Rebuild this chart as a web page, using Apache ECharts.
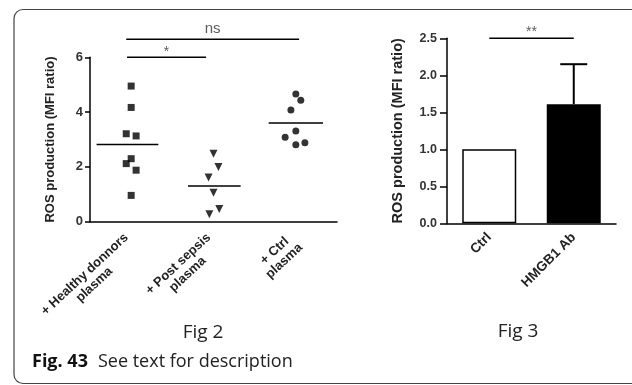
<!DOCTYPE html>
<html>
<head>
<meta charset="utf-8">
<script src="https://cdn.jsdelivr.net/npm/echarts@6/dist/echarts.min.js"></script>
<style>
  html, body { margin: 0; padding: 0; background: #fff; }
</style>
</head>
<body>
<div id="chart" style="width:632px;height:385px"></div>
<script>
// Fig 2 - scatter of ROS production per plasma group
const fig2Groups = ['+ Healthy donnors\nplasma', '+ Post sepsis\nplasma', '+ Ctrl\nplasma']
const healthyVals = [4.95, 4.17, 3.21, 3.13, 2.30, 2.12, 1.88, 0.96]
const healthyJit = [0, 0, -0.06, 0.06, 0, -0.06, 0.06, 0]
const sepsisVals = [2.48, 2.00, 1.61, 1.06, 0.46, 0.27]
const sepsisJit = [0, 0.06, -0.06, 0, 0.07, -0.05]
const ctrlVals = [4.66, 4.43, 4.08, 3.31, 3.08, 2.81, 2.88]
const ctrlJit = [0, 0.06, -0.06, 0, -0.13, 0, 0.11]
const groupMeans = [2.82, 1.30, 3.60]
const meanFrom = [-0.42, -0.31, -0.33]
const meanTo = [0.33, 0.33, 0.33]
const fig2Ticks = [0, 2, 4, 6]
// significance brackets on fig 2
const sigText = ['*', 'ns']
const sigFrom = [0.95, 0.94]
const sigTo = [1.91, 3.04]
const sigY = [6.0, 6.66]

// Fig 3 - bar chart
const fig3Cats = ['Ctrl', 'HMGB1 Ab']
const fig3Vals = [1.0, 1.61]
const fig3Upper = [1.0, 2.15]
const fig3Sig = '**'
const fig3SigY = 2.5

const chart = echarts.init(document.getElementById('chart'))

const txt = '#222'
const font = "'Liberation Sans', Arial, sans-serif"

function pts (vals, jit, g) {
  return vals.map((v, i) => [g + jit[i], v])
}

const meanSeries = groupMeans.map((m, i) => ({
  type: 'line',
  xAxisIndex: 1,
  yAxisIndex: 0,
  symbol: 'none',
  silent: true,
  lineStyle: { color: '#000', width: 1.5 },
  data: [[i + 1 + meanFrom[i], m], [i + 1 + meanTo[i], m]]
}))

const sigSeries = sigText.map((t, i) => ({
  type: 'line',
  xAxisIndex: 1,
  yAxisIndex: 0,
  symbol: 'none',
  clip: false,
  silent: true,
  lineStyle: { color: '#000', width: 1.5 },
  data: [[sigFrom[i], sigY[i]], [sigTo[i], sigY[i]]]
}))

const sigLabelSeries = {
  type: 'scatter',
  xAxisIndex: 1,
  yAxisIndex: 0,
  symbolSize: 1,
  clip: false,
  silent: true,
  itemStyle: { color: 'rgba(0,0,0,0)' },
  label: {
    show: true,
    position: 'top',
    distance: 1,
    formatter: p => p.name,
    fontFamily: font,
    color: '#333'
  },
  data: sigText.map((t, i) => ({
    name: t,
    value: [(sigFrom[i] + sigTo[i]) / 2, sigY[i]],
    label: t === '*' ? { fontSize: 14, distance: -2 } : { fontSize: 15, distance: 2 }
  }))
}

const yAxisBase = {
  type: 'value',
  name: 'ROS production (MFI ratio)',
  nameLocation: 'middle',
  axisLine: { show: true, onZero: false, lineStyle: { color: '#000', width: 1.5 } },
  splitLine: { show: false }
}

const option = {
  animation: false,
  backgroundColor: '#fff',
  textStyle: { fontFamily: font },
  grid: [
    { left: 90, top: 57.3, width: 247, height: 164.4 },
    { left: 447, top: 38.3, width: 169, height: 185 }
  ],
  xAxis: [
    {
      type: 'category',
      gridIndex: 0,
      data: fig2Groups,
      axisLine: { onZero: false, lineStyle: { color: '#000', width: 1.5 } },
      axisTick: { alignWithLabel: true, length: 5, lineStyle: { color: '#000', width: 1.5 } },
      axisLabel: {
        rotate: 43,
        margin: 19,
        interval: 0,
        formatter: v => v.split('\n').map(s => '{a|' + s + '}').join('\n'),
        rich: {
          a: { align: 'center', fontSize: 13, fontWeight: 'bold', color: txt, fontFamily: font, lineHeight: 14 }
        }
      }
    },
    {
      type: 'value',
      gridIndex: 0,
      min: 0.5,
      max: 3.5,
      show: false
    },
    {
      type: 'category',
      gridIndex: 1,
      data: fig3Cats,
      axisLine: { onZero: false, lineStyle: { color: '#000', width: 1.5 } },
      axisTick: { alignWithLabel: true, length: 5, lineStyle: { color: '#000', width: 1.5 } },
      axisLabel: {
        rotate: 45,
        margin: 12,
        fontSize: 13.5,
        fontWeight: 'bold',
        color: txt,
        fontFamily: font
      }
    },
    {
      type: 'value',
      gridIndex: 1,
      min: -0.5,
      max: 1.5,
      show: false
    }
  ],
  yAxis: [
    {
      ...yAxisBase,
      gridIndex: 0,
      min: fig2Ticks[0],
      max: fig2Ticks[fig2Ticks.length - 1],
      interval: 2,
      nameGap: 33,
      nameTextStyle: { fontSize: 13, fontWeight: 'bold', color: txt, fontFamily: font },
      axisTick: { show: true, length: 5, lineStyle: { color: '#000', width: 1.5 } },
      axisLabel: { margin: 7, fontSize: 13, fontWeight: 'bold', color: '#333', fontFamily: font }
    },
    {
      ...yAxisBase,
      gridIndex: 1,
      min: 0,
      max: 2.5,
      interval: 0.5,
      nameGap: 42,
      nameTextStyle: { fontSize: 14.5, fontWeight: 'bold', color: txt, fontFamily: font },
      axisTick: { show: true, length: 7, lineStyle: { color: '#000', width: 1.5 } },
      axisLabel: { margin: 10, fontSize: 12.5, fontWeight: 'bold', color: '#333', fontFamily: font, formatter: v => v.toFixed(1) }
    }
  ],
  series: [
    {
      type: 'scatter',
      xAxisIndex: 1,
      yAxisIndex: 0,
      symbol: 'rect',
      symbolSize: 7,
      itemStyle: { color: '#000' },
      data: pts(healthyVals, healthyJit, 1)
    },
    {
      type: 'scatter',
      xAxisIndex: 1,
      yAxisIndex: 0,
      symbol: 'triangle',
      symbolRotate: 180,
      symbolSize: 8,
      itemStyle: { color: '#000' },
      data: pts(sepsisVals, sepsisJit, 2)
    },
    {
      type: 'scatter',
      xAxisIndex: 1,
      yAxisIndex: 0,
      symbol: 'circle',
      symbolSize: 7,
      itemStyle: { color: '#000' },
      data: pts(ctrlVals, ctrlJit, 3)
    },
    ...meanSeries,
    ...sigSeries,
    sigLabelSeries,
    {
      type: 'bar',
      xAxisIndex: 2,
      yAxisIndex: 1,
      barWidth: 54,
      data: fig3Vals.map((v, i) => ({
        value: v,
        itemStyle: i === 0
          ? { color: '#fff', borderColor: '#000', borderWidth: 1.5 }
          : { color: '#000', borderColor: '#000', borderWidth: 1.5 }
      }))
    },
    {
      type: 'custom',
      xAxisIndex: 2,
      yAxisIndex: 1,
      silent: true,
      data: fig3Vals.map((v, i) => [i, v, fig3Upper[i]]),
      renderItem (params, api) {
        if (api.value(2) <= api.value(1)) return null
        const base = api.coord([api.value(0), api.value(1)])
        const top = api.coord([api.value(0), api.value(2)])
        const st = { stroke: '#000', lineWidth: 2 }
        return {
          type: 'group',
          children: [
            { type: 'line', shape: { x1: base[0], y1: base[1], x2: top[0], y2: top[1] }, style: st },
            { type: 'line', shape: { x1: top[0] - 13.5, y1: top[1], x2: top[0] + 13.5, y2: top[1] }, style: st }
          ]
        }
      }
    },
    {
      type: 'line',
      xAxisIndex: 3,
      yAxisIndex: 1,
      symbol: 'none',
      clip: false,
      silent: true,
      lineStyle: { color: '#000', width: 1.5 },
      data: [[0, fig3SigY], [1, fig3SigY]]
    },
    {
      type: 'scatter',
      xAxisIndex: 3,
      yAxisIndex: 1,
      symbolSize: 1,
      clip: false,
      silent: true,
      itemStyle: { color: 'rgba(0,0,0,0)' },
      label: { show: true, position: 'top', distance: -1, formatter: fig3Sig, fontSize: 14, color: '#333', fontFamily: font },
      data: [[0.5, fig3SigY]]
    }
  ],
  graphic: [
    {
      type: 'rect',
      shape: { x: 14, y: 9.5, width: 700, height: 374, r: 9 },
      style: { fill: 'none', stroke: '#444', lineWidth: 1.2 },
      silent: true
    },
    {
      type: 'text',
      x: 203,
      y: 333,
      style: { text: 'Fig 2', fontSize: 19, fontFamily: "'Open Sans', sans-serif", fill: '#222', align: 'center', verticalAlign: 'middle' }
    },
    {
      type: 'text',
      x: 518,
      y: 332,
      style: { text: 'Fig 3', fontSize: 19, fontFamily: "'Open Sans', sans-serif", fill: '#222', align: 'center', verticalAlign: 'middle' }
    },
    {
      type: 'text',
      x: 32,
      y: 362,
      style: {
        text: '{b|Fig. 43}   {n|See text for description}',
        verticalAlign: 'middle',
        rich: {
          b: { fontSize: 18, fontWeight: 'bold', fontFamily: "'Open Sans', sans-serif", fill: '#111' },
          n: { fontSize: 18, fontFamily: "'Open Sans', sans-serif", fill: '#222' }
        }
      }
    }
  ]
}

chart.setOption(option)
</script>
</body>
</html>
